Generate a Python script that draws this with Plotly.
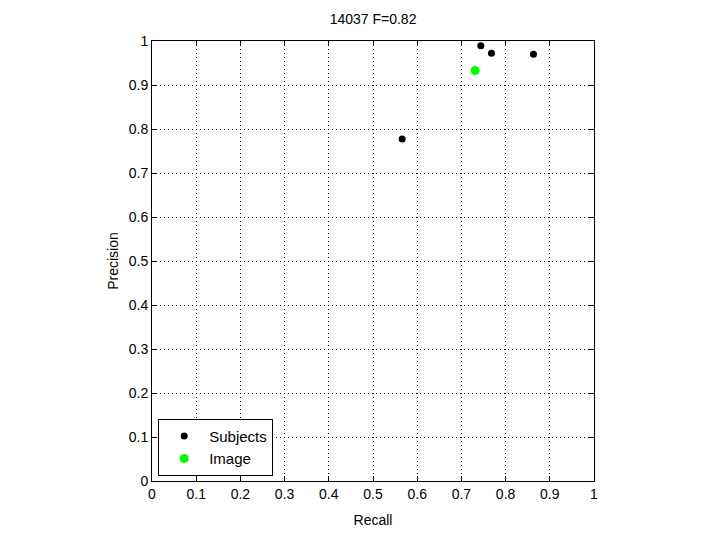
import plotly.graph_objects as go

subj_recall = [0.744, 0.768, 0.863, 0.566]
subj_precision = [0.989, 0.972, 0.970, 0.777]
img_recall = [0.731]
img_precision = [0.933]
ticks = [0, 0.1, 0.2, 0.3, 0.4, 0.5, 0.6, 0.7, 0.8, 0.9, 1]
tick_text = ["0", "0.1", "0.2", "0.3", "0.4", "0.5", "0.6", "0.7", "0.8", "0.9", "1"]

fig = go.Figure()
fig.add_trace(go.Scatter(x=subj_recall, y=subj_precision, mode="markers", name="Subjects",
                         marker=dict(color="black", size=7)))
fig.add_trace(go.Scatter(x=img_recall, y=img_precision, mode="markers", name="Image",
                         marker=dict(color="#00ff00", size=9)))

axis_common = dict(range=[0, 1], tickvals=ticks, ticktext=tick_text, showgrid=True,
                   gridcolor="black", griddash="1px,3px", gridwidth=1, zeroline=False,
                   showline=True, linecolor="black", linewidth=1, mirror="ticks",
                   ticks="inside", ticklen=5, tickcolor="black", automargin=False,
                   tickfont=dict(family="Liberation Sans, Arial", size=14, color="black"))

fig.update_layout(
    width=720, height=540,
    paper_bgcolor="white", plot_bgcolor="white",
    margin=dict(l=144, r=134, t=33, b=67, autoexpand=False),
    title=dict(text="14037 F=0.82", x=0.507, xanchor="center", y=0.979, yanchor="middle",
               font=dict(family="Liberation Sans, Arial", size=14, color="black")),
    xaxis=dict(**axis_common, title=dict(text="Recall", standoff=14,
               font=dict(family="Liberation Sans, Arial", size=14, color="black"))),
    yaxis=dict(**axis_common, title=dict(text="Precision", standoff=6,
               font=dict(family="Liberation Sans, Arial", size=14, color="black"))),
    legend=dict(x=0.014, y=0.012, xanchor="left", yanchor="bottom",
                bordercolor="black", borderwidth=1, bgcolor="white",
                itemwidth=40, tracegroupgap=0,
                font=dict(family="Liberation Sans, Arial", size=15, color="black")),
    showlegend=True,
)

fig.write_html("out.html")
